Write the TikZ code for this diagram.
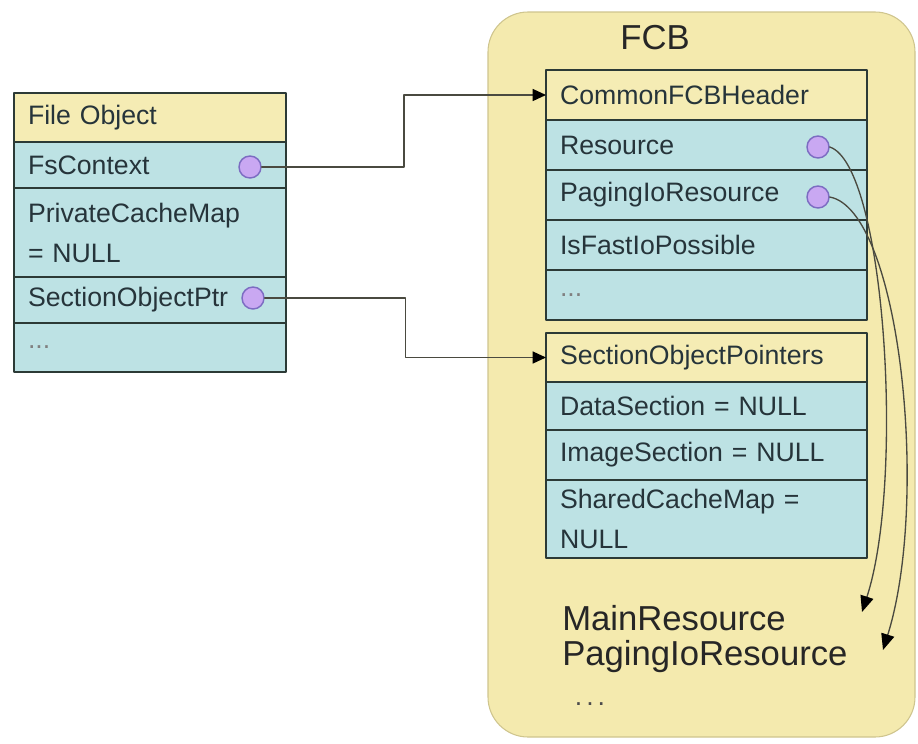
\documentclass[tikz,border=0pt]{standalone}
\usepackage{fontspec}
\setmainfont{Liberation Sans}
\usetikzlibrary{arrows}
\usetikzlibrary{arrows.meta}
\usetikzlibrary{positioning}
\usetikzlibrary{calc}
\definecolor{fcbbg}{HTML}{F4EAAE}
\definecolor{fcbedge}{HTML}{CFC58E}
\definecolor{hdrfill}{HTML}{F5ECB4}
\definecolor{rowfill}{HTML}{BDE2E4}
\definecolor{ptrfill}{HTML}{C9A8F2}
\definecolor{ptrdraw}{HTML}{7C6CC2}
\definecolor{boxline}{HTML}{2C3A36}
\definecolor{textcol}{HTML}{26343A}
\definecolor{linkcol}{HTML}{4A4A40}

\tikzset{
  field/.style={draw=boxline,line width=1.5pt,fill=rowfill,text=textcol,
    outer sep=0pt,inner xsep=10.5pt,align=left,
    font=\fontsize{20pt}{30pt}\selectfont},
  lrow/.style={field,minimum width=204pt,text width=183pt},
  frow/.style={field,minimum width=240.75pt,text width=219.75pt,minimum height=37.5pt},
  ptr/.style={circle,draw=ptrdraw,line width=1.1pt,fill=ptrfill,minimum size=16.5pt,inner sep=0pt},
  link/.style={draw=linkcol,line width=1pt,-{Triangle[length=10pt,width=9pt,color=black]}},
  curvelink/.style={link,-{Triangle[length=12pt,width=10pt,color=black]}}
}

\begin{document}
\begin{tikzpicture}[line cap=round,line join=round,x=0.75pt,y=-0.75pt]
\useasboundingbox (0,0) rectangle (918,743);
% FCB background
\draw[fill=fcbbg,draw=fcbedge,line width=0.8pt,rounded corners=30pt] (488,12) rectangle (915,737);
\node[font=\fontsize{26pt}{26pt}\selectfont,text=black!85] (fcb) at (655,38) {FCB};

% file object
\node[lrow,fill=hdrfill,minimum height=36.75pt] (fo) at (150,117.5) {File Object};
\node[lrow,minimum height=34.5pt,below=0pt of fo] (fsctx) {FsContext};
\node[lrow,minimum height=66.75pt,below=0pt of fsctx] (pcm) {PrivateCacheMap\\= NULL};
\node[lrow,minimum height=34.5pt,below=0pt of pcm] (sop) {SectionObjectPtr};
\node[lrow,minimum height=36.75pt,below=0pt of sop] (fodots) {\textcolor{gray}{...}};
\node[ptr] (fsp) at (250,167) {};
\node[ptr] (sopp) at (253,298) {};

% FCB header block
\node[frow,fill=hdrfill] (hdr) at (706.5,95) {CommonFCBHeader};
\node[frow,below=0pt of hdr] (res) {Resource};
\node[frow,below=0pt of res] (pres) {PagingIoResource};
\node[frow,below=0pt of pres] (fastio) {IsFastIoPossible};
\node[frow,below=0pt of fastio] (fcbdots) {\textcolor{gray}{...}};
\node[ptr] (resp) at (818,147) {};
\node[ptr] (presp) at (818,197) {};

% section object pointers
\node[frow,fill=hdrfill,minimum height=36.75pt] (sec) at (706.5,357.5) {SectionObjectPointers};
\node[frow,minimum height=36pt,below=0pt of sec] (data) {DataSection = NULL};
\node[frow,below=0pt of data] (img) {ImageSection = NULL};
\node[frow,minimum height=58.5pt,below=0pt of img] (scm) {SharedCacheMap =\\NULL};

% resources
\node[anchor=base west,inner sep=0pt,font=\fontsize{26pt}{26pt}\selectfont,text=black!85] (mainr) at (562,630) {MainResource};
\node[anchor=base west,inner sep=0pt,font=\fontsize{26pt}{26pt}\selectfont,text=black!85] (pagr) at (562,665) {PagingIoResource};
\node[text=black!70,font=\fontsize{20pt}{20pt}\selectfont] (fcbmore) at (590,704) {.\hspace{3pt}.\hspace{3pt}.};
\coordinate (mainend) at (862,612);
\coordinate (pagend) at (883,650);

% links
\coordinate (m1) at ($(fsp.east)!0.5!(hdr.west)$);
\coordinate (m2) at ($(sopp.east)!0.5!(sec.west)$);
\draw[link] (fsp.east) -- (fsp.east -| m1) |- (hdr.west);
\draw[link] (sopp.east) -- (sopp.east -| m2) |- (sec.west);
\draw[curvelink] (resp.east) .. controls (885,165) and (905,480) .. (mainend);
\draw[curvelink] (presp.east) .. controls (900,210) and (930,500) .. (pagend);
\end{tikzpicture}
\end{document}
